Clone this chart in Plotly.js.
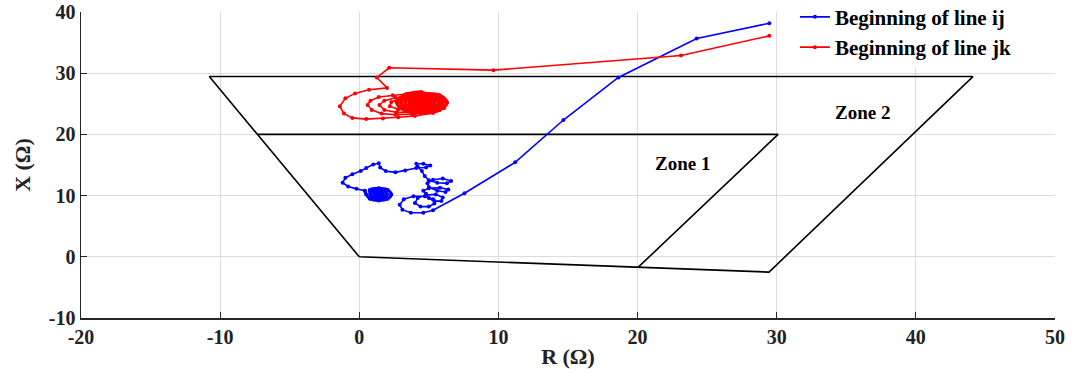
<!DOCTYPE html>
<html>
<head>
<meta charset="utf-8">
<script src="https://cdn.plot.ly/plotly-3.0.1.min.js"></script>
<style>html,body{margin:0;padding:0;background:#fff;}#chart{width:1073px;height:373px;}</style>
</head>
<body>
<div id="chart"></div>
<script>
// Zone boundaries (R, X in ohms)
var zone2R = [0, -10.78, 44.1, 29.45, 0];
var zone2X = [0, 29.45, 29.45, -2.5, 0];
var zone1R = [-7.3, 30.1, 20.05];
var zone1X = [20.0, 20.0, -1.7];

// Beginning of line ij (blue) trajectory
var ijR = [29.47, 24.25, 18.62, 14.67, 11.2, 7.56, 5.3, 4.6, 3.7, 3.1, 2.9, 3.2, 3.9, 4.7, 5.3, 5.4, 5.0, 4.4, 4.0, 4.2, 4.8, 5.5, 6.0, 5.9, 5.4, 5.0, 4.8, 4.6, 5.0, 5.8, 6.4, 6.2, 5.6, 5.0, 4.9, 5.3, 6.0, 6.6, 6.3, 5.6, 5.0, 4.7, 4.5, 4.2, 4.1, 4.6, 5.1, 4.8, 4.1, 3.3, 2.6, 1.9, 1.5, 1.4, 1.0, 0.5, 0.1, -0.5, -1.0, -1.2, -0.8, -0.2, 0.4];
var ijX = [38.17, 35.66, 29.3, 22.35, 15.43, 10.38, 7.6, 7.2, 7.2, 7.7, 8.5, 9.4, 9.9, 9.9, 9.4, 8.7, 8.2, 8.2, 8.8, 9.6, 10.1, 10.2, 9.7, 9.1, 9.1, 9.6, 10.3, 10.8, 11.2, 11.3, 11.0, 10.6, 10.8, 11.4, 12.0, 12.6, 12.8, 12.4, 12.0, 12.1, 12.5, 13.2, 14.0, 14.7, 15.2, 15.2, 14.9, 14.6, 14.5, 14.1, 13.8, 14.0, 14.6, 15.3, 15.1, 14.5, 14.0, 13.5, 12.9, 12.1, 11.5, 11.1, 10.8];
var ijCoreR = [0.4, 0.5, 0.76, 1.4, 2.04, 2.3, 2.04, 1.4, 0.76, 0.8, 0.98, 1.4, 1.82, 2.0, 1.82, 1.4, 0.98, 1.1, 1.19, 1.4, 1.61, 1.7, 1.61, 1.4, 1.19, 1.4];
var ijCoreX = [10.8, 10.2, 9.49, 9.2, 9.49, 10.2, 10.91, 11.2, 10.91, 10.2, 9.74, 9.55, 9.74, 10.2, 10.66, 10.85, 10.66, 10.2, 9.97, 9.87, 9.97, 10.2, 10.43, 10.53, 10.43, 10.2];

// Beginning of line jk (red) trajectory
var jkR = [29.47, 23.12, 9.64, 2.15, 1.26, 2.0, 0.7, -0.3, -1.0, -1.4, -1.1, -0.5, 0.5, 1.7, 2.8, 4.0, 5.3, 6.1, 6.3, 5.8, 4.7, 3.4, 2.4, 1.4, 0.8, 0.6, 0.9, 1.6, 2.6, 3.8, 5.0, 5.9, 6.1, 5.6, 4.6, 3.5, 2.6, 1.8, 1.45, 1.8, 2.7, 3.9, 5.1, 5.9, 5.8, 5.0, 3.9, 3.0, 2.3, 2.2, 2.8, 3.9, 5.0, 5.7, 5.5, 4.7, 3.8];
var jkX = [36.1, 32.9, 30.5, 30.88, 29.3, 27.6, 27.3, 26.7, 25.9, 24.6, 23.4, 22.7, 22.5, 22.6, 22.8, 23.0, 23.5, 24.3, 25.2, 26.1, 26.7, 26.6, 26.4, 26.1, 25.5, 24.8, 24.0, 23.4, 23.2, 23.3, 23.7, 24.5, 25.4, 26.2, 26.5, 26.3, 26.0, 25.5, 24.8, 24.0, 23.6, 23.6, 24.0, 24.8, 25.7, 26.2, 26.1, 25.8, 25.3, 24.6, 24.1, 23.9, 24.2, 24.9, 25.7, 26.0, 25.8];
var jkCoreR = [3.8, 4.5, 3.23, 2.7, 3.23, 4.5, 5.77, 6.3, 5.77, 4.5, 3.44, 3.0, 3.44, 4.5, 5.56, 6.0, 5.56, 4.5, 3.65, 3.3, 3.65, 4.5, 5.35, 5.7, 5.35, 4.5, 3.86, 3.6, 3.86, 4.5, 5.14, 5.4, 5.14, 4.5, 4.08, 3.9, 4.08, 4.5, 4.92, 5.1, 4.92, 4.5, 4.29, 4.2, 4.29, 4.5, 4.71, 4.8, 4.71, 4.5];
var jkCoreX = [25.8, 26.9, 26.4, 25.2, 24.0, 23.5, 24.0, 25.2, 26.4, 26.6, 26.19, 25.2, 24.21, 23.8, 24.21, 25.2, 26.19, 26.3, 25.98, 25.2, 24.42, 24.1, 24.42, 25.2, 25.98, 26.0, 25.77, 25.2, 24.63, 24.4, 24.63, 25.2, 25.77, 25.7, 25.55, 25.2, 24.85, 24.7, 24.85, 25.2, 25.55, 25.45, 25.38, 25.2, 25.02, 24.95, 25.02, 25.2, 25.38, 25.2];

// Axis ticks
var xTickVals = [-20, -10, 0, 10, 20, 30, 40, 50];
var xTickText = ['-20', '-10', '0', '10', '20', '30', '40', '50'];
var yTickVals = [-10, 0, 10, 20, 30, 40];
var yTickText = ['-10', '0', '10', '20', '30', '40'];

// Zone labels
var zoneLabels = ['Zone 1', 'Zone 2'];
var zoneLabelR = [23.2, 36.2];
var zoneLabelX = [15.2, 23.5];

var FONT = 'Liberation Serif, Times New Roman, serif';
var BLUE = '#0000ff', RED = '#ff0000';

var traces = [
  {x: zone2R, y: zone2X, mode: 'lines', line: {color: '#000', width: 1.6}, showlegend: false, hoverinfo: 'skip'},
  {x: zone1R, y: zone1X, mode: 'lines', line: {color: '#000', width: 1.6}, showlegend: false, hoverinfo: 'skip'},
  {x: ijR, y: ijX, mode: 'lines+markers', name: 'Beginning of line ij', line: {color: BLUE, width: 1.6}, marker: {color: BLUE, size: 4}},
  {x: ijCoreR, y: ijCoreX, mode: 'lines+markers', showlegend: false, line: {color: BLUE, width: 3, shape: 'spline'}, marker: {color: BLUE, size: 4}},
  {x: jkR, y: jkX, mode: 'lines+markers', name: 'Beginning of line jk', line: {color: RED, width: 1.6}, marker: {color: RED, size: 4}},
  {x: jkCoreR, y: jkCoreX, mode: 'lines+markers', showlegend: false, line: {color: RED, width: 3.5, shape: 'spline'}, marker: {color: RED, size: 4}}
];

var annotations = zoneLabels.map(function (t, i) {
  return {x: zoneLabelR[i], y: zoneLabelX[i], xref: 'x', yref: 'y', text: t, showarrow: false,
          font: {family: FONT, size: 19, color: '#000', weight: 700}};
});

var layout = {
  width: 1073, height: 373,
  margin: {l: 81, r: 18, t: 12, b: 55, autoexpand: false},
  paper_bgcolor: '#fff', plot_bgcolor: '#fff',
  font: {family: FONT, color: '#000', weight: 700},
  xaxis: {
    range: [-20, 50], tickvals: xTickVals, ticktext: xTickText,
    showgrid: true, gridcolor: '#dcdcdc', gridwidth: 1, zeroline: false,
    showline: true, linecolor: '#262626', linewidth: 1.5, mirror: false,
    ticks: 'inside', ticklen: 6, tickcolor: '#262626', tickwidth: 1.2,
    tickfont: {family: FONT, size: 20, color: '#222', weight: 700},
    title: {text: 'R (Ω)', font: {family: FONT, size: 22, color: '#222', weight: 700}, standoff: 2}
  },
  yaxis: {
    range: [-10, 40], tickvals: yTickVals, ticktext: yTickText,
    showgrid: true, gridcolor: '#dcdcdc', gridwidth: 1, zeroline: false,
    showline: true, linecolor: '#262626', linewidth: 1.5, mirror: false,
    ticks: 'inside', ticklen: 6, tickcolor: '#262626', tickwidth: 1.2,
    tickfont: {family: FONT, size: 20, color: '#222', weight: 700},
    title: {text: 'X (Ω)', font: {family: FONT, size: 22, color: '#222', weight: 700}, standoff: 12}
  },
  legend: {
    x: 0.733, y: 1.05, xanchor: 'left', yanchor: 'top',
    bgcolor: '#ffffff', borderwidth: 0,
    font: {family: FONT, size: 21, color: '#000', weight: 700},
    tracegroupgap: 0
  },
  annotations: annotations,
  showlegend: true
};

Plotly.newPlot('chart', traces, layout, {displayModeBar: false, staticPlot: true});
</script>
</body>
</html>
